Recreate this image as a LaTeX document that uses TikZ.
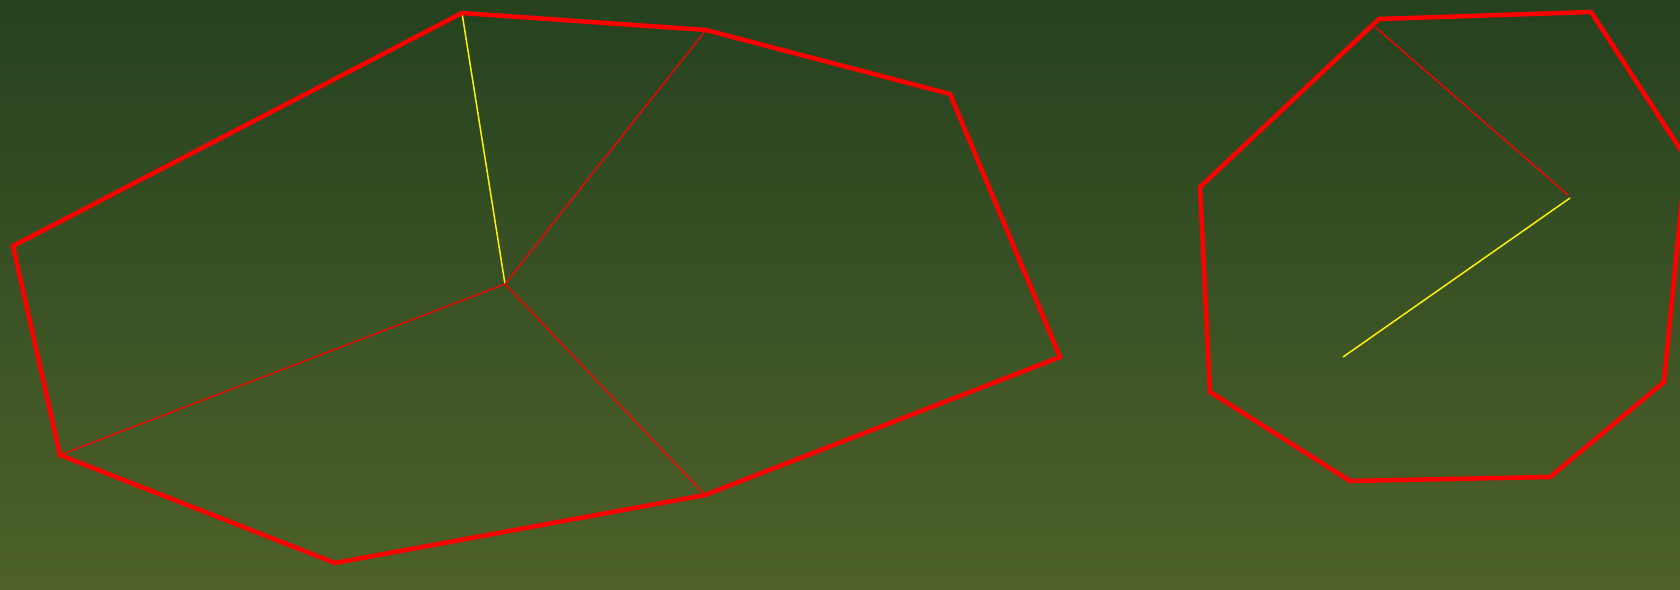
\documentclass[tikz,border=0pt]{standalone}
\begin{document}
\begin{tikzpicture}[x=1pt,y=-1pt,
  thickedge/.style={draw=red,line width=4.5pt,line join=miter},
  thinred/.style={draw=red,line width=1.3pt},
  thinyellow/.style={draw=yellow,line width=1.5pt}]
\useasboundingbox (0,0) rectangle (1680,589);
\shade[top color={rgb,255:red,37;green,66;blue,31},bottom color={rgb,255:red,78;green,97;blue,41}] (0,0) rectangle (1680,589);
\begin{scope}
\clip (0,0) rectangle (1680,589);
% left polygon
\coordinate (A) at (13,246);
\coordinate (B) at (462,13);
\coordinate (C) at (706,30);
\coordinate (D) at (950,94);
\coordinate (E) at (1060,357);
\coordinate (F) at (705,495);
\coordinate (G) at (335,563);
\coordinate (H) at (60,455);
\coordinate (P) at (505,284);
\draw[thinyellow] (B) -- (P);
\draw[thinred] (C) -- (P);
\draw[thinred] (H) -- (P);
\draw[thinred] (F) -- (P);
\draw[thickedge] (A) -- (B) -- (C) -- (D) -- (E) -- (F) -- (G) -- (H) -- cycle;
% right polygon
\coordinate (R1) at (1379,19);
\coordinate (R2) at (1591,12);
\coordinate (R3) at (1686,158);
\coordinate (R4) at (1664,382);
\coordinate (R5) at (1550,477);
\coordinate (R6) at (1350,481);
\coordinate (R7) at (1210,392);
\coordinate (R8) at (1200,187);
\coordinate (S1) at (1375,27);
\coordinate (S2) at (1568,195);
\coordinate (T1) at (1570,198);
\coordinate (T2) at (1343,357);
\draw[thinred] (S1) -- (S2);
\draw[thinyellow] (T1) -- (T2);
\draw[thickedge] (R1) -- (R2) -- (R3) -- (R4) -- (R5) -- (R6) -- (R7) -- (R8) -- cycle;
\end{scope}
\end{tikzpicture}
\end{document}
